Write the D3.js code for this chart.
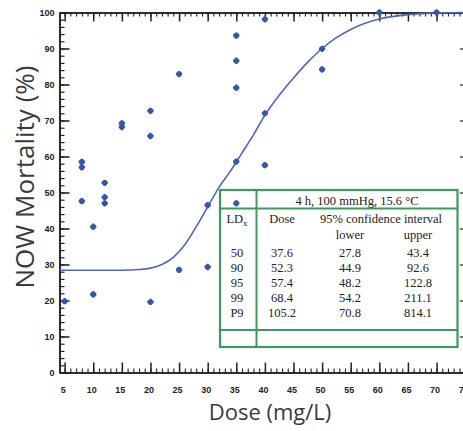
<!DOCTYPE html>
<html>
<head>
<meta charset="utf-8">
<script src="https://cdn.jsdelivr.net/npm/d3@7"></script>
<style>
  body { margin: 0; background: #fff; }
  svg { display: block; }
  .tick text { font-family: "Liberation Sans Narrow", "Liberation Sans", sans-serif; font-weight: bold; font-size: 9px; fill: #222; }
  .axis path, .axis line { stroke: #222; }
  .tbl text { font-family: "Liberation Serif", "DejaVu Serif", serif; font-size: 12.5px; fill: #222; }
</style>
</head>
<body>
<svg id="chart" width="463" height="431"></svg>
<script>
// observed mortality points
var doses     = [5, 8, 8, 8, 10, 10, 12, 12, 12, 15, 15, 20, 20, 20, 25, 25, 30, 30, 35, 35, 35, 35, 35, 40, 40, 40, 50, 50, 60, 70];
var mortality = [19.8, 58.5, 57.0, 47.6, 40.5, 21.7, 52.7, 48.7, 47.0, 69.2, 68.2, 72.7, 65.7, 19.6, 82.9, 28.5, 46.5, 29.3, 93.6, 86.6, 79.1, 58.6, 47.0, 98.1, 72.0, 57.6, 89.9, 84.2, 100, 100];

// fitted curve
var curveDose = [4.1, 10, 15, 18, 20, 22, 24, 26, 28, 30, 32, 34, 36, 38, 40, 42.5, 45, 47.5, 50, 52.5, 55, 57.5, 60, 65, 70, 74.8];
var curveMort = [28.4, 28.4, 28.4, 28.6, 29.0, 30.0, 32.0, 35.5, 40.5, 46.0, 51.5, 56.0, 61.0, 66.0, 71.5, 77.0, 81.8, 86.2, 90.0, 93.0, 95.3, 97.0, 98.2, 99.4, 99.9, 100];

// ticks
var xMajor = d3.range(5, 76, 5);
var xMinor = d3.range(5, 75, 1);
var yMajor = d3.range(0, 101, 10);
var yMinor = d3.range(0, 101, 2);

// LD table
var tblHeader = "4 h, 100 mmHg, 15.6 \u00B0C";
var ldLevels = ["50", "90", "95", "99", "P9"];
var ldDose   = ["37.6", "52.3", "57.4", "68.4", "105.2"];
var ciLower  = ["27.8", "44.9", "48.2", "54.2", "70.8"];
var ciUpper  = ["43.4", "92.6", "122.8", "211.1", "814.1"];

var svg = d3.select('#chart');
var x = d3.scaleLinear().domain([4.1, 74.8]).range([59.5, 464]);
var y = d3.scaleLinear().domain([0, 100]).range([372.5, 12.5]);

var green = '#3d9a5e', blue = '#3a55ad';

// axes: minor ones drop their (empty) labels
function addAxis(axis, tf, w, minor) {
  var g = svg.append('g').attr('class', 'axis').attr('transform', tf).call(axis);
  g.selectAll('line').attr('stroke-width', w);
  g.select('.domain').attr('stroke-width', 1.6);
  if (minor) g.selectAll('text').remove();
  return g;
}
addAxis(d3.axisLeft(y).tickValues(yMinor).tickSize(-5).tickSizeOuter(0), 'translate(59.5,0)', 1.2, true);
addAxis(d3.axisLeft(y).tickValues(yMajor).tickSize(-10).tickSizeOuter(0).tickPadding(5), 'translate(59.5,0)', 1.6);
addAxis(d3.axisBottom(x).tickValues(xMinor).tickSize(-4).tickSizeOuter(0), 'translate(0,372.5)', 1.1, true);
addAxis(d3.axisBottom(x).tickValues(xMajor).tickSize(-10).tickSizeOuter(0).tickPadding(14), 'translate(0,372.5)', 1.5)
  .selectAll('text').attr('dx', -2);
addAxis(d3.axisTop(x).tickValues(xMinor).tickSize(-4).tickSizeOuter(0), 'translate(0,12.5)', 1.1, true);
addAxis(d3.axisTop(x).tickValues(xMajor).tickSize(-9).tickSizeOuter(0), 'translate(0,12.5)', 1.5, true);
addAxis(d3.axisRight(y).tickValues(yMajor).tickSize(-4).tickSizeOuter(0), 'translate(464,0)', 1.2, true);

// axis titles
svg.append('text')
  .attr('transform', 'translate(34,177) rotate(-90)')
  .attr('text-anchor', 'middle')
  .style('font-family', '"Open Sans", sans-serif').style('font-size', '26px').style('fill', '#3a3a3a')
  .text('NOW Mortality (%)');
svg.append('text')
  .attr('x', 270).attr('y', 420)
  .attr('text-anchor', 'middle')
  .style('font-family', '"Open Sans", sans-serif').style('font-size', '22px').style('fill', '#3a3a3a')
  .text('Dose (mg/L)');

// table box
var tb = { x0: 220, x1: 457.5, xc: 256.5, y0: 190, y1: 347, yh: 208.5, yf: 330 };
var tbl = svg.append('g').attr('class', 'tbl');
tbl.append('rect').attr('x', tb.x0).attr('y', tb.y0).attr('width', tb.x1 - tb.x0).attr('height', tb.y1 - tb.y0)
  .attr('fill', '#fff').attr('stroke', green).attr('stroke-width', 2.2);
tbl.append('line').attr('x1', tb.xc).attr('x2', tb.xc).attr('y1', tb.y0).attr('y2', tb.y1).attr('stroke', green).attr('stroke-width', 2);
[tb.yh, tb.yf].forEach(function(yy) {
  tbl.append('line').attr('x1', tb.x0).attr('x2', tb.x1).attr('y1', yy).attr('y2', yy).attr('stroke', green).attr('stroke-width', 1.8);
});
tbl.append('text').attr('x', 357).attr('y', 205).attr('text-anchor', 'middle').text(tblHeader);
var ld = tbl.append('text').attr('x', 237).attr('y', 223).attr('text-anchor', 'middle');
ld.append('tspan').text('LD');
ld.append('tspan').attr('dy', 3).style('font-size', '9px').text('x');
tbl.append('text').attr('x', 282).attr('y', 223).attr('text-anchor', 'middle').text('Dose');
tbl.append('text').attr('x', 381).attr('y', 223).attr('text-anchor', 'middle').text('95% confidence interval');
tbl.append('text').attr('x', 350).attr('y', 238.5).attr('text-anchor', 'middle').text('lower');
tbl.append('text').attr('x', 418).attr('y', 238.5).attr('text-anchor', 'middle').text('upper');
var cols = [[ldLevels, 237], [ldDose, 282], [ciLower, 350], [ciUpper, 418]];
cols.forEach(function(c) {
  tbl.selectAll(null).data(c[0]).enter().append('text')
    .attr('x', c[1]).attr('y', function(d, i) { return 256.5 + i * 15; })
    .attr('text-anchor', 'middle').text(function(d) { return d; });
});

// fitted curve
var line = d3.line().x(function(d) { return x(d[0]); }).y(function(d) { return y(d[1]); }).curve(d3.curveMonotoneX);
svg.append('path').datum(d3.zip(curveDose, curveMort))
  .attr('d', line).attr('fill', 'none').attr('stroke', '#4f66bd').attr('stroke-width', 1.6);

// points: round blob with a faint cross, like the scanned markers
var pts = svg.selectAll('g.pt').data(d3.zip(doses, mortality)).enter().append('g')
  .attr('class', 'pt')
  .attr('transform', function(d) { return 'translate(' + x(d[0]) + ',' + y(d[1]) + ')'; })
  .attr('fill', blue);
pts.append('circle').attr('r', 2.8);
pts.append('path').attr('d', d3.symbol().type(d3.symbolCross).size(22));
</script>
</body>
</html>
